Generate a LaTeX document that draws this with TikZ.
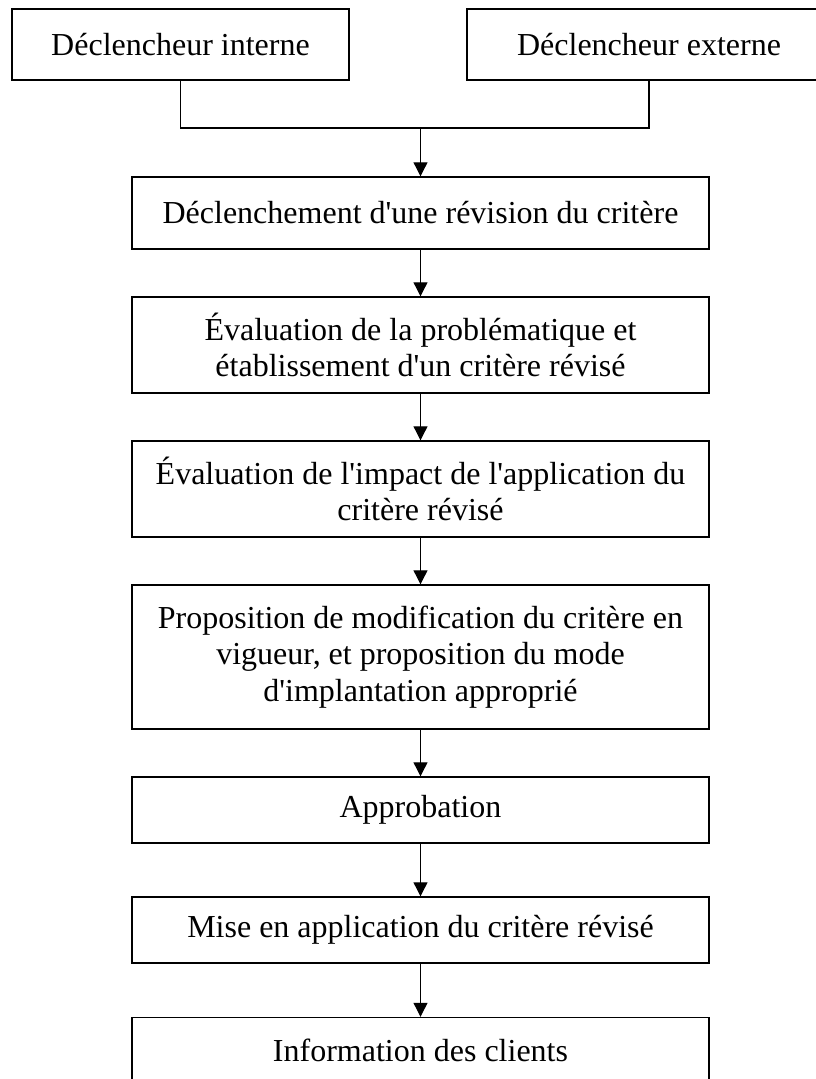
\documentclass[tikz,border=0pt]{standalone}
\usepackage{fontspec}
\setmainfont{Liberation Serif}[Ligatures=TeXOff]
\usepackage{tikz}
\usetikzlibrary{arrows.meta}

\begin{document}
\begin{tikzpicture}[x=0.5pt,y=-0.5pt,
    >={Triangle[length=7pt,width=7pt]},
    box/.style={draw,line width=0.7pt,align=center,inner sep=0pt,
      minimum width=288.5pt,font=\fontsize{16}{18.4}\selectfont},
    link/.style={line width=0.55pt}]
        \useasboundingbox (0,0) rectangle (815,1079);
        % declencheurs
        \node[box,minimum width=168.5pt,minimum height=35.5pt] (int) at (180.5,44.5) {Déclencheur interne};
        \node[box,minimum width=182pt,minimum height=35.5pt] (ext) at (649,44.5) {Déclencheur externe};
        \coordinate (join) at (420.5,128);
        % etapes
        \node[box,minimum height=36pt] (rev) at (420.5,213) {Déclenchement d'une révision du critère};
        \node[box,minimum height=48pt] (eval) at (420.5,345) {Évaluation de la problématique et\\établissement d'un critère révisé};
        \node[box,minimum height=48pt] (impact) at (420.5,489) {Évaluation de l'impact de l'application du\\critère révisé};
        \node[box,minimum height=72pt] (prop) at (420.5,657) {Proposition de modification du critère en\\vigueur, et proposition du mode\\d'implantation approprié};
        \node[box,minimum height=33pt] (appr) at (420.5,810) {Approbation};
        \node[box,minimum height=33pt] (mise) at (420.5,930) {Mise en application du critère révisé};
        \node[box,minimum height=33pt] (info) at (420.5,1050.5) {Information des clients};
        % liens
        \draw[link] (int.south) |- (join) -| (ext.south);
        \draw[link,->] (join) -- (rev.north);
        \foreach \a/\b in {rev/eval,eval/impact,impact/prop,prop/appr,appr/mise,mise/info}
          \draw[link,->] (\a) -- (\b);
\end{tikzpicture}
\end{document}
